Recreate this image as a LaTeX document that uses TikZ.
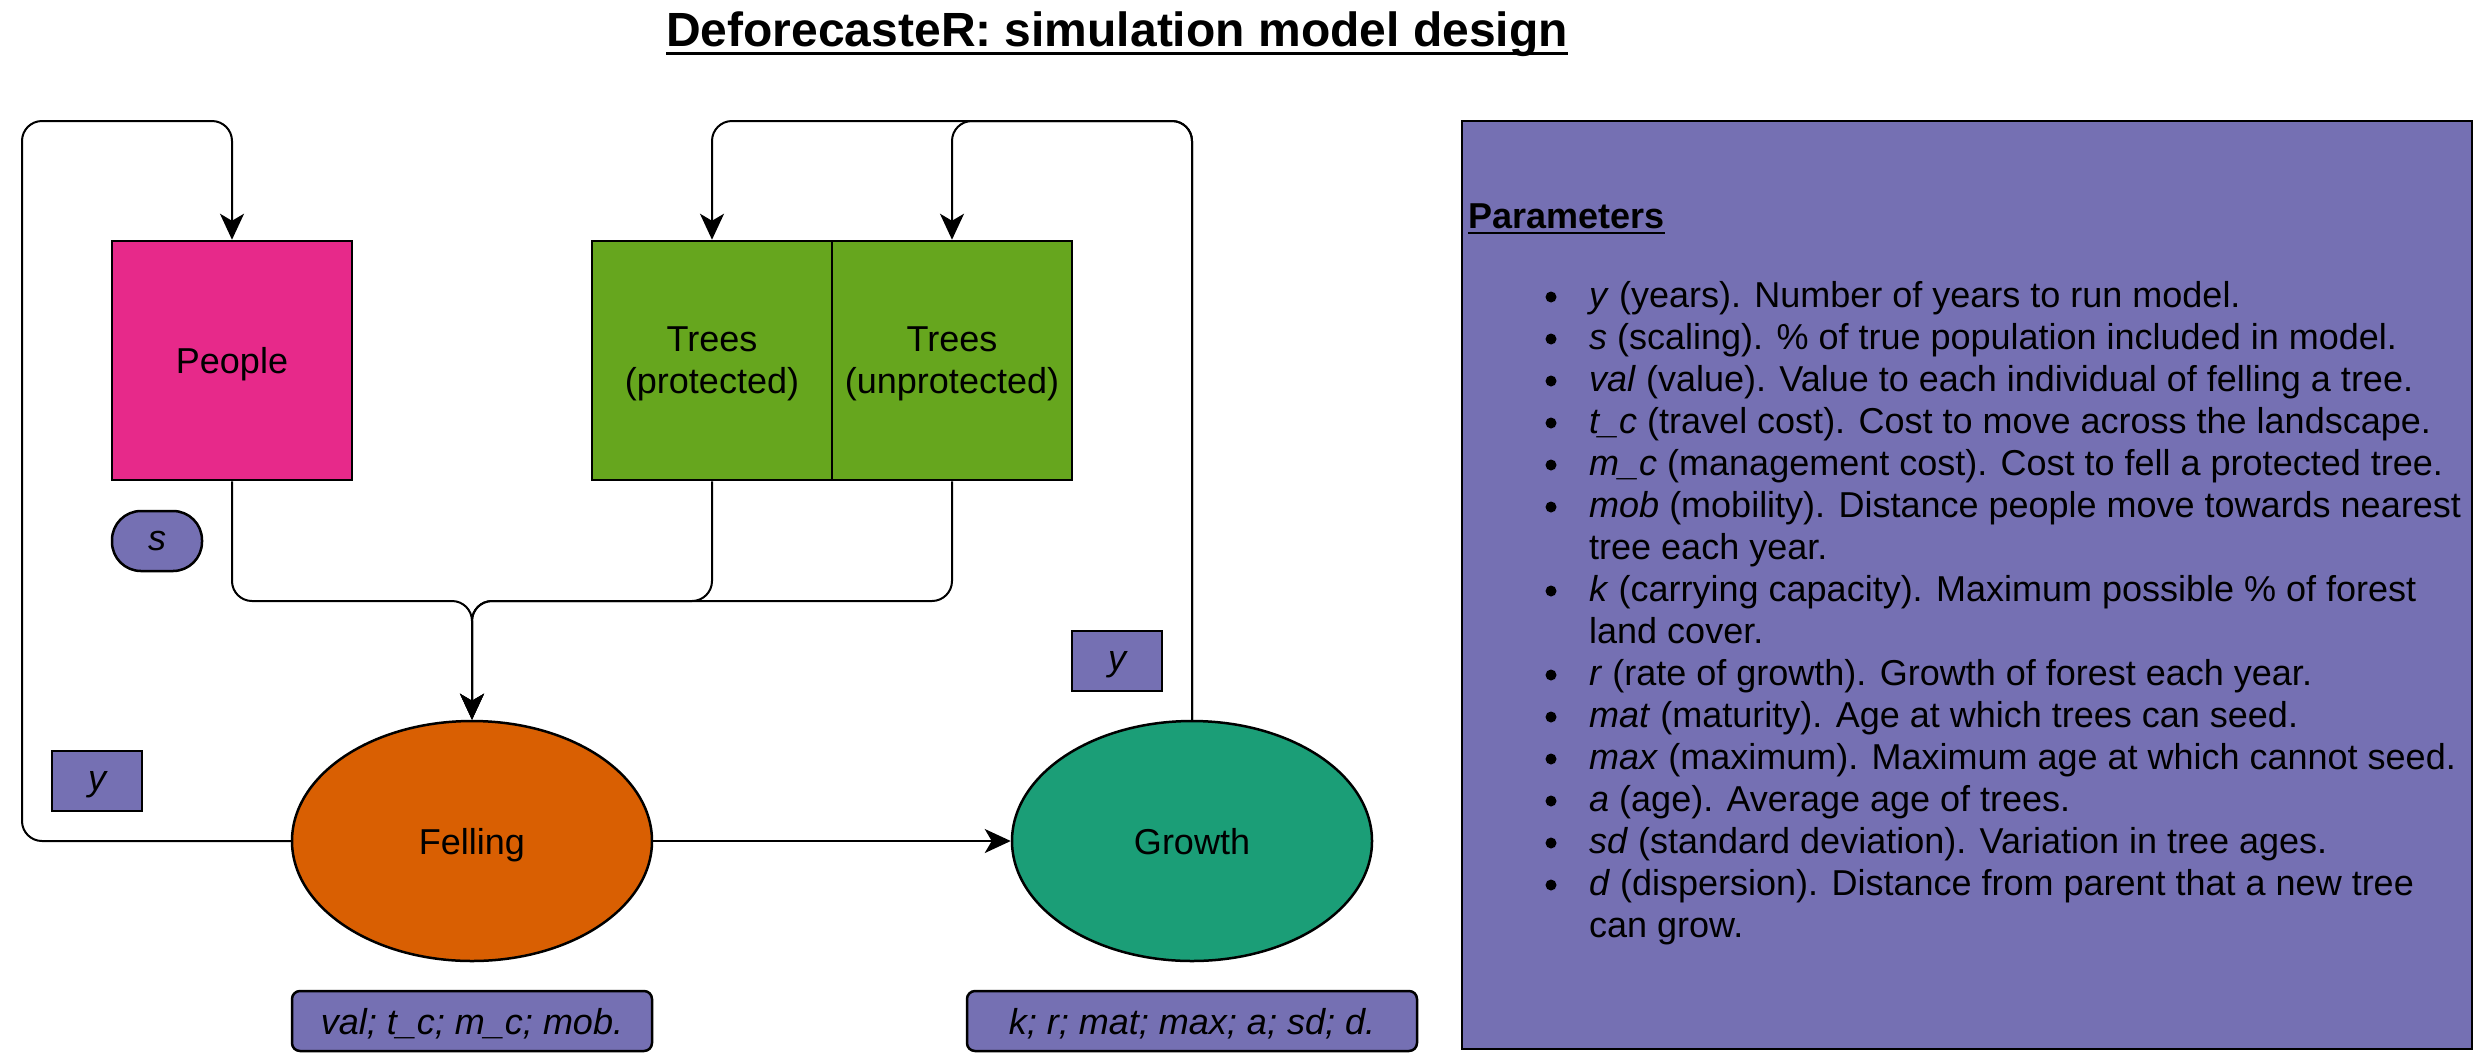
\documentclass[tikz,border=0pt]{standalone}
\usepackage{fontspec}
\setmainfont{Liberation Sans}
\usetikzlibrary{arrows.meta,shapes.geometric}
\definecolor{cpink}{HTML}{E7298A}
\definecolor{cgreen}{HTML}{66A61E}
\definecolor{corange}{HTML}{D95F02}
\definecolor{cteal}{HTML}{1B9E77}
\definecolor{cpurple}{HTML}{7570B3}
\begin{document}
\begin{tikzpicture}[x=1pt,y=-1pt,
  every node/.style={font=\fontsize{36pt}{42pt}\selectfont},
  shapebox/.style={draw=black, line width=2.5pt, inner sep=0pt, align=center, text depth=0pt},
  ellbox/.style={shapebox, ellipse, minimum width=360pt, minimum height=240pt},
  parbox/.style={shapebox, fill=cpurple, minimum width=90pt, minimum height=60pt, font=\fontsize{36pt}{42pt}\selectfont\itshape},
  conn/.style={draw=black, line width=2pt, rounded corners=20pt, -{Stealth[length=26pt,width=24pt,inset=7pt]}},
  txt/.style={anchor=base west, inner sep=0pt},
]
\useasboundingbox (0,0) rectangle (2475,1053);

% title
\node[inner sep=0pt, anchor=base, font=\fontsize{48pt}{50pt}\selectfont\bfseries] (title) at (1117,46) {DeforecasteR: simulation model design};
\draw[line width=3pt] ([yshift=-7pt]title.base west) -- ([yshift=-7pt]title.base east);

% stocks
\node[shapebox, fill=cpink, minimum width=240pt, minimum height=239pt] (people) at (232,360.5) {People};
\node[shapebox, fill=cgreen, minimum width=240pt, minimum height=239pt] (tp) at (712,360.5) {Trees\\(protected)};
\node[shapebox, fill=cgreen, minimum width=240pt, minimum height=239pt] (tu) at (952,360.5) {Trees\\(unprotected)};

% processes
\node[ellbox, fill=corange] (felling) at (472,841) {Felling};
\node[ellbox, fill=cteal] (growth) at (1192,841) {Growth};

% parameter tags
\node[parbox, rounded corners=29pt] (s) at (157,541) {s};
\node[parbox] (yl) at (97,781) {y};
\node[parbox] (yr) at (1117,661) {y};
\node[parbox, rounded corners=8pt, minimum width=360pt] (fp) at (472,1021) {val; t\_c; m\_c; mob.};
\node[parbox, rounded corners=8pt, minimum width=450pt] (gp) at (1192,1021) {k; r; mat; max; a; sd; d.};

% connector waypoints
\coordinate (mj) at (472,601);
\coordinate (ltl) at (22,121);
\coordinate (rtop) at (1192,121);

% connectors
\draw[conn] (people.south) |- (mj) -- (felling.north);
\draw[conn] (tp.south) |- (mj) -- (felling.north);
\draw[conn] (tu.south) |- (mj) -- (felling.north);
\draw[conn] (felling.east) -- (growth.west);
\draw[conn] (felling.west) -| (ltl) -| (people.north);
\draw[conn] (growth.north) -- (rtop) -| (tp.north);
\draw[conn] (growth.north) -- (rtop) -| (tu.north);

% parameters panel
\node[shapebox, fill=cpurple, minimum width=1010pt, minimum height=928pt] (panel) at (1967,585) {};
\node[txt, font=\fontsize{36pt}{42pt}\selectfont\bfseries] (ptitle) at (1468,228) {Parameters};
\draw[line width=2pt] ([yshift=-5pt]ptitle.base west) -- ([yshift=-5pt]ptitle.base east);

\foreach \yy in {307,349,391,433,475,517,601,685,727,769,811,853,895}
  \fill (1551,\yy-10) circle (5.5pt);

\node[txt] (l1) at (1589,307) {\textit{y} (years). Number of years to run model.};
\node[txt] (l2) at (1589,349) {\textit{s} (scaling). \% of true population included in model.};
\node[txt] (l3) at (1589,391) {\textit{val} (value). Value to each individual of felling a tree.};
\node[txt] (l4) at (1589,433) {\textit{t\_c} (travel cost). Cost to move across the landscape.};
\node[txt] (l5) at (1589,475) {\textit{m\_c} (management cost). Cost to fell a protected tree.};
\node[txt] (l6) at (1589,517) {\textit{mob} (mobility). Distance people move towards nearest};
\node[txt] (l7) at (1589,559) {tree each year.};
\node[txt] (l8) at (1589,601) {\textit{k} (carrying capacity). Maximum possible \% of forest};
\node[txt] (l9) at (1589,643) {land cover.};
\node[txt] (l10) at (1589,685) {\textit{r} (rate of growth). Growth of forest each year.};
\node[txt] (l11) at (1589,727) {\textit{mat} (maturity). Age at which trees can seed.};
\node[txt] (l12) at (1589,769) {\textit{max} (maximum). Maximum age at which cannot seed.};
\node[txt] (l13) at (1589,811) {\textit{a} (age). Average age of trees.};
\node[txt] (l14) at (1589,853) {\textit{sd} (standard deviation). Variation in tree ages.};
\node[txt] (l15) at (1589,895) {\textit{d} (dispersion). Distance from parent that a new tree};
\node[txt] (l16) at (1589,937) {can grow.};
\end{tikzpicture}
\end{document}
